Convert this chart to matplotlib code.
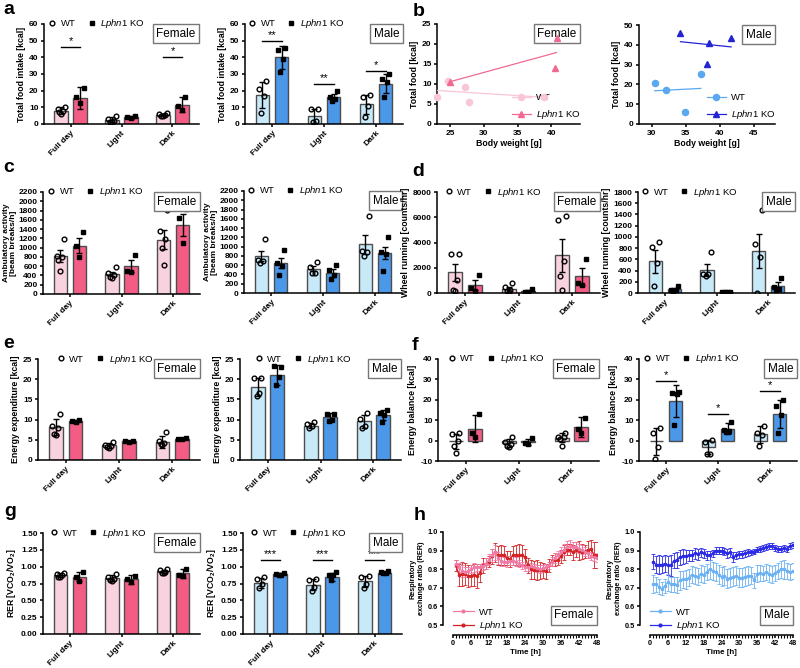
import numpy as np
import matplotlib
matplotlib.use('Agg')
import matplotlib.pyplot as plt
from matplotlib.lines import Line2D
from matplotlib.offsetbox import AnchoredText

plt.rcParams['font.family'] = ['Liberation Sans', 'DejaVu Sans']
plt.rcParams['mathtext.fontset'] = 'custom'
plt.rcParams['mathtext.rm'] = 'Liberation Sans'
plt.rcParams['mathtext.it'] = 'Liberation Sans:italic'
plt.rcParams['mathtext.bf'] = 'Liberation Sans:bold'

periods = ['Full day', 'Light', 'Dark']
ko_label = r'$\mathit{Lphn1}$ KO'

# a: total food intake [kcal]
a_f_wt_mean = [8.0, 2.6, 5.6]
a_f_wt_err = [2.0, 1.4, 0.6]
a_f_wt_pts = [[10.5, 9.0, 8.0, 7.0, 6.0], [5.0, 3.0, 2.0, 1.5, 1.5], [6.5, 6.0, 5.5, 5.0, 5.0]]
a_f_ko_mean = [15.5, 4.0, 11.5]
a_f_ko_err = [6.5, 1.0, 4.5]
a_f_ko_pts = [[21.5, 16.0, 12.5], [5.0, 4.0, 3.5], [16.0, 11.0, 8.5]]
a_m_wt_mean = [17.5, 5.0, 12.0]
a_m_wt_err = [8.0, 4.2, 5.7]
a_m_wt_pts = [[26.0, 21.0, 16.7, 6.4], [9.3, 9.3, 1.8, 1.4], [17.5, 16.5, 11.0, 4.0]]
a_m_ko_mean = [40.0, 16.2, 24.2]
a_m_ko_err = [7.0, 2.0, 5.8]
a_m_ko_pts = [[45.5, 44.5, 39.0, 31.5], [20.0, 16.0, 15.0, 14.0], [30.0, 27.0, 25.0, 16.0]]

# b: food vs body weight
b_f_wt_bw = [23.0, 24.7, 27.1, 27.8, 39.0]
b_f_wt_food = [6.8, 10.8, 9.2, 5.5, 6.8]
b_f_ko_bw = [24.9, 40.6, 40.8]
b_f_ko_food = [10.6, 14.0, 21.6]
b_m_wt_bw = [30.4, 32.0, 34.8, 37.2]
b_m_wt_food = [20.7, 17.3, 6.0, 25.4]
b_m_ko_bw = [34.2, 38.1, 38.35, 41.65]
b_m_ko_food = [45.8, 30.4, 41.1, 43.5]

# c: ambulatory activity
c_f_wt_mean = [815, 425, 1175]
c_f_wt_err = [130, 45, 200]
c_f_wt_pts = [[1190, 830, 800, 740, 490], [585, 460, 410, 360, 350], [1810, 1360, 1180, 1000, 615]]
c_f_ko_mean = [1045, 600, 1485]
c_f_ko_err = [165, 125, 230]
c_f_ko_pts = [[1340, 1030, 790], [850, 500, 470], [1830, 1630, 1090]]
c_m_wt_mean = [800, 525, 1055]
c_m_wt_err = [115, 60, 205]
c_m_wt_pts = [[1160, 720, 680, 650], [670, 560, 430, 430], [1650, 900, 880, 790]]
c_m_ko_mean = [640, 440, 860]
c_m_ko_err = [110, 85, 135]
c_m_ko_pts = [[920, 650, 590, 390], [600, 500, 380, 300], [1210, 880, 840, 480]]

# d: wheel running
d_f_wt_mean = [1630, 290, 2980]
d_f_wt_err = [660, 180, 1300]
d_f_wt_pts = [[3110, 3060, 1060, 260, 130], [820, 480, 210, 130, 80], [6070, 5800, 2530, 1350, 210]]
d_f_ko_mean = [660, 160, 1320]
d_f_ko_err = [400, 70, 690]
d_f_ko_pts = [[1450, 400, 150], [290, 80, 80], [2690, 800, 600]]
d_m_wt_mean = [570, 410, 743]
d_m_wt_err = [205, 100, 305]
d_m_wt_pts = [[905, 820, 540, 125], [730, 330, 345, 300], [1475, 880, 650, 0]]
d_m_ko_mean = [65, 18, 125]
d_m_ko_err = [30, 6, 75]
d_m_ko_pts = [[125, 60, 48, 36], [22, 18, 16, 14], [260, 110, 80, 50]]

# e: energy expenditure [kcal]
e_f_wt_mean = [8.1, 3.6, 4.5]
e_f_wt_err = [2.0, 0.7, 1.5]
e_f_wt_pts = [[11.3, 8.3, 8.0, 6.4, 6.3], [4.5, 3.8, 3.4, 3.3, 3.0], [7.0, 4.6, 4.2, 4.0, 3.8]]
e_f_ko_mean = [9.6, 4.6, 5.3]
e_f_ko_err = [0.3, 0.2, 0.2]
e_f_ko_pts = [[9.9, 9.7, 9.4], [4.8, 4.6, 4.5], [5.5, 5.3, 5.1]]
e_m_wt_mean = [18.1, 8.5, 9.6]
e_m_wt_err = [2.2, 0.7, 1.6]
e_m_wt_pts = [[20.3, 20.3, 16.5, 15.8], [9.4, 9.0, 8.3, 7.9], [11.6, 10.2, 8.5, 7.9]]
e_m_ko_mean = [21.0, 10.6, 11.2]
e_m_ko_err = [2.4, 1.0, 1.3]
e_m_ko_pts = [[23.1, 23.2, 20.5, 18.6], [11.4, 11.4, 10.0, 9.6], [12.5, 11.6, 11.2, 9.4]]

# f: energy balance [kcal]
f_f_wt_mean = [-0.3, -1.15, 1.3]
f_f_wt_err = [3.7, 1.8, 2.2]
f_f_wt_pts = [[3.5, 3.1, 0.0, -2.6, -5.9], [1.6, -0.5, -1.8, -2.5, -3.0], [3.9, 1.8, 1.8, 1.0, -2.6]]
f_f_ko_mean = [5.9, -0.8, 6.6]
f_f_ko_err = [6.8, 1.6, 4.9]
f_f_ko_pts = [[12.8, 3.5, 1.8], [1.2, -1.3, -1.6], [11.3, 5.9, 3.8]]
f_m_wt_mean = [-0.4, -3.1, 3.0]
f_m_wt_err = [6.7, 3.4, 4.1]
f_m_wt_pts = [[6.0, 3.5, -3.0, -9.0], [0.5, -0.7, -6.4, -6.7], [7.1, 3.5, 2.6, -2.8]]
f_m_ko_mean = [19.4, 5.9, 13.2]
f_m_ko_err = [8.0, 2.6, 6.8]
f_m_ko_pts = [[23.7, 23.2, 22.7, 7.6], [9.2, 5.1, 4.8, 4.3], [19.9, 16.9, 12.5, 3.9]]

# g: RER
g_f_wt_mean = [0.87, 0.83, 0.93]
g_f_wt_err = [0.03, 0.04, 0.025]
g_f_wt_pts = [[0.90, 0.89, 0.875, 0.85, 0.84], [0.89, 0.84, 0.81, 0.80, 0.78], [0.96, 0.95, 0.925, 0.91, 0.90]]
g_f_ko_mean = [0.85, 0.81, 0.90]
g_f_ko_err = [0.07, 0.06, 0.07]
g_f_ko_pts = [[0.925, 0.84, 0.79], [0.866, 0.81, 0.767], [0.97, 0.875, 0.86]]
g_m_wt_mean = [0.76, 0.73, 0.78]
g_m_wt_err = [0.075, 0.08, 0.085]
g_m_wt_pts = [[0.84, 0.82, 0.74, 0.69], [0.82, 0.80, 0.70, 0.64], [0.86, 0.84, 0.74, 0.69]]
g_m_ko_mean = [0.89, 0.85, 0.91]
g_m_ko_err = [0.015, 0.06, 0.015]
g_m_ko_pts = [[0.90, 0.89, 0.875, 0.875], [0.915, 0.875, 0.875, 0.80], [0.935, 0.915, 0.90, 0.90]]

# h: RER time course
hours = list(range(1, 49))
h_f_wt = [0.83, 0.81, 0.79, 0.785, 0.79, 0.80, 0.81, 0.81, 0.81, 0.815, 0.83, 0.85,
          0.875, 0.89, 0.86, 0.845, 0.84, 0.84, 0.845, 0.845, 0.84, 0.83, 0.82, 0.81,
          0.81, 0.815, 0.81, 0.805, 0.80, 0.805, 0.81, 0.82, 0.84, 0.86, 0.875, 0.89,
          0.905, 0.92, 0.925, 0.92, 0.92, 0.91, 0.905, 0.895, 0.885, 0.87, 0.865, 0.86]
h_f_wt_err = [0.02, 0.025, 0.03, 0.025, 0.02, 0.02, 0.025, 0.02, 0.02, 0.02, 0.03, 0.03,
              0.035, 0.04, 0.03, 0.03, 0.025, 0.03, 0.025, 0.025, 0.025, 0.02, 0.02, 0.02,
              0.02, 0.02, 0.02, 0.02, 0.02, 0.02, 0.02, 0.02, 0.025, 0.025, 0.025, 0.03,
              0.03, 0.03, 0.03, 0.025, 0.025, 0.025, 0.025, 0.025, 0.025, 0.02, 0.02, 0.02]
h_f_ko = [0.82, 0.77, 0.775, 0.775, 0.765, 0.765, 0.77, 0.765, 0.78, 0.82, 0.83, 0.84,
          0.87, 0.89, 0.875, 0.875, 0.875, 0.86, 0.855, 0.875, 0.875, 0.875, 0.875, 0.865,
          0.82, 0.80, 0.795, 0.795, 0.795, 0.795, 0.79, 0.82, 0.845, 0.85, 0.85, 0.87,
          0.89, 0.905, 0.905, 0.89, 0.905, 0.90, 0.895, 0.895, 0.905, 0.91, 0.875, 0.875]
h_f_ko_err = [0.03, 0.06, 0.065, 0.06, 0.06, 0.055, 0.06, 0.065, 0.05, 0.04, 0.03, 0.03,
              0.04, 0.05, 0.05, 0.055, 0.05, 0.04, 0.045, 0.05, 0.055, 0.06, 0.055, 0.045,
              0.04, 0.05, 0.05, 0.055, 0.045, 0.04, 0.04, 0.035, 0.03, 0.035, 0.03, 0.035,
              0.04, 0.03, 0.03, 0.04, 0.04, 0.05, 0.04, 0.035, 0.045, 0.045, 0.07, 0.07]
h_m_wt = [0.72, 0.72, 0.705, 0.695, 0.71, 0.73, 0.72, 0.72, 0.715, 0.74, 0.745, 0.745,
          0.755, 0.77, 0.765, 0.76, 0.775, 0.77, 0.785, 0.80, 0.79, 0.785, 0.77, 0.76,
          0.765, 0.75, 0.755, 0.76, 0.765, 0.755, 0.755, 0.76, 0.765, 0.765, 0.74, 0.775,
          0.78, 0.775, 0.785, 0.775, 0.77, 0.78, 0.79, 0.80, 0.80, 0.79, 0.785, 0.79]
h_m_wt_err = [0.05, 0.04, 0.04, 0.035, 0.04, 0.045, 0.04, 0.04, 0.045, 0.05, 0.045, 0.05,
              0.045, 0.045, 0.045, 0.045, 0.045, 0.045, 0.045, 0.05, 0.05, 0.05, 0.05, 0.05,
              0.05, 0.05, 0.05, 0.05, 0.05, 0.05, 0.05, 0.05, 0.05, 0.045, 0.04, 0.045,
              0.045, 0.04, 0.045, 0.045, 0.045, 0.045, 0.045, 0.045, 0.05, 0.045, 0.045, 0.045]
h_m_ko = [0.84, 0.825, 0.825, 0.825, 0.83, 0.82, 0.82, 0.845, 0.85, 0.865, 0.87, 0.87,
          0.875, 0.875, 0.885, 0.88, 0.89, 0.885, 0.875, 0.875, 0.885, 0.90, 0.90, 0.90,
          0.895, 0.885, 0.89, 0.865, 0.875, 0.88, 0.88, 0.885, 0.89, 0.89, 0.895, 0.905,
          0.91, 0.915, 0.92, 0.925, 0.925, 0.915, 0.91, 0.91, 0.915, 0.91, 0.925, 0.93]
h_m_ko_err = [0.04, 0.045, 0.05, 0.045, 0.045, 0.05, 0.055, 0.04, 0.045, 0.04, 0.04, 0.035,
              0.03, 0.03, 0.03, 0.03, 0.025, 0.025, 0.025, 0.025, 0.02, 0.02, 0.02, 0.02,
              0.02, 0.025, 0.025, 0.025, 0.02, 0.02, 0.02, 0.02, 0.02, 0.015, 0.015, 0.015,
              0.015, 0.015, 0.015, 0.015, 0.015, 0.015, 0.015, 0.015, 0.015, 0.015, 0.015, 0.015]

# colours
F_WT, F_KO = '#f9d2df', '#f25c85'
M_WT, M_KO = '#c8e9f8', '#4b97e8'
EDGE = '#4d4d4d'

W, H = 800, 668
fig = plt.figure(figsize=(8, 6.68), dpi=100)


def px_axes(x0, y0, x1, y1):
    return fig.add_axes([x0 / W, 1 - y1 / H, (x1 - x0) / W, (y1 - y0) / H])


def style(ax, offset=0, size=6):
    for s in ['top', 'right']:
        ax.spines[s].set_visible(False)
    for s in ['left', 'bottom']:
        ax.spines[s].set_linewidth(1.1)
        if offset:
            ax.spines[s].set_position(('outward', offset))
    ax.tick_params(width=1.1, length=2.5, labelsize=size, pad=1.5)


def sex_box(ax, sex, loc='upper right', size=8.5):
    at = AnchoredText(sex, loc=loc, borderpad=0.0, pad=0.3, frameon=True,
                      prop=dict(size=size))
    at.patch.set_edgecolor('#777777')
    at.patch.set_linewidth(1.0)
    at.zorder = 5
    ax.add_artist(at)


def spread(n, w=0.07):
    base = np.linspace(-w, w, n)
    order = []
    lo, hi = 0, n - 1
    while lo <= hi:
        order.append(hi)
        if lo != hi:
            order.append(lo)
        hi -= 1
        lo += 1
    return base[order]


def bar_panel(ax, wt_mean, wt_err, wt_pts, ko_mean, ko_err, ko_pts, c_wt, c_ko,
              ylim, yticks, ylabel, sex, leg_px, fmt='{:g}', sig=(), ylsize=6.3, ylpad=2):
    x = np.arange(len(periods))
    d, bw = 0.185, 0.26
    ax.bar(x - d, wt_mean, bw, color=c_wt, edgecolor=EDGE, linewidth=1, zorder=2)
    ax.bar(x + d, ko_mean, bw, color=c_ko, edgecolor=EDGE, linewidth=1, zorder=2)
    for i in range(len(periods)):
        ax.plot(x[i] - d + spread(len(wt_pts[i])), wt_pts[i], 'o', ms=3.4, mfc='none',
                mec='k', mew=1.0, zorder=3)
        ax.plot(x[i] + d + spread(len(ko_pts[i])), ko_pts[i], 's', ms=3.3, color='k', zorder=3)
    ax.errorbar(x - d, wt_mean, yerr=wt_err, fmt='none', ecolor='k', elinewidth=1,
                capsize=2.5, capthick=1, zorder=4)
    ax.errorbar(x + d, ko_mean, yerr=ko_err, fmt='none', ecolor='k', elinewidth=1,
                capsize=2.5, capthick=1, zorder=4)
    for g, yl, lab in sig:
        ax.plot([g - d, g + d], [yl, yl], color='k', lw=1)
        ax.text(g, yl + (ylim[1] - ylim[0]) * 0.01, lab, ha='center', va='bottom', fontsize=8)
    ax.set_xlim(-0.52, 2.52)
    ax.set_ylim(*ylim)
    style(ax)
    ax.set_yticks(yticks)
    ax.set_yticklabels([fmt.format(t) for t in yticks], fontweight='bold')
    ax.set_xticks(x)
    ax.set_xticklabels(periods, rotation=45, ha='right', rotation_mode='anchor',
                       fontweight='bold', fontsize=6)
    ax.set_ylabel(ylabel, fontsize=ylsize, fontweight='bold', labelpad=ylpad, linespacing=1.05)
    handles = [Line2D([], [], ls='', marker='o', ms=3.4, mfc='none', mec='k', mew=1.0),
               Line2D([], [], ls='', marker='s', ms=3.3, color='k')]
    wpx = ax.get_position().width * W
    ax.legend(handles, ['WT', ko_label], loc='center left', bbox_to_anchor=(leg_px / wpx - 0.03, 1.0),
              ncol=2, frameon=False, fontsize=6.8, handlelength=0.8, handletextpad=0.5,
              columnspacing=1.3, borderaxespad=0, borderpad=0)
    sex_box(ax, sex)


def scatter_panel(ax, wt_bw, wt_food, ko_bw, ko_food, c_wt, c_ko, xlim, xticks, ylim, yticks, sex):
    for bw, fd, c, m in [(wt_bw, wt_food, c_wt, 'o'), (ko_bw, ko_food, c_ko, '^')]:
        k, b = np.polyfit(bw, fd, 1)
        xs = np.array([min(bw), max(bw)])
        ax.plot(xs, k * xs + b, color=c, lw=0.9, zorder=3)
        ax.plot(bw, fd, ls='', marker=m, ms=4.4 if m == 'o' else 3.8, color=c, zorder=6, clip_on=False)
    style(ax)
    ax.set_xlim(*xlim)
    ax.set_ylim(*ylim)
    ax.set_xticks(xticks)
    ax.set_xticklabels([str(t) for t in xticks], fontweight='bold')
    ax.set_yticks(yticks)
    ax.set_yticklabels([str(t) for t in yticks], fontweight='bold')
    ax.set_xlabel('Body weight [g]', fontsize=6.3, fontweight='bold', labelpad=2)
    ax.set_ylabel('Total food [kcal]', fontsize=6.3, fontweight='bold', labelpad=2)
    handles = [Line2D([], [], color=c_wt, lw=0.9, marker='o', ms=4.4),
               Line2D([], [], color=c_ko, lw=0.9, marker='^', ms=3.8)]
    ax.legend(handles, ['WT', ko_label], loc='lower right', bbox_to_anchor=(1.0, 0.03),
              frameon=False, fontsize=6.8, handlelength=2.0, handletextpad=0.5,
              labelspacing=0.6, borderaxespad=0, borderpad=0)
    sex_box(ax, sex)


def rer_panel(ax, wt, wt_err, ko, ko_err, c_wt, c_ko, sex):
    ax.errorbar(hours, ko, yerr=ko_err, color=c_ko, lw=0.9, marker='o', ms=1.6,
                elinewidth=0.6, capsize=1.2, capthick=0.6, zorder=3)
    ax.errorbar(hours, wt, yerr=wt_err, color=c_wt, lw=0.9, marker='o', ms=1.6,
                elinewidth=0.6, capsize=1.2, capthick=0.6, zorder=3)
    ax.set_xlim(0, 48)
    ax.set_ylim(0.5, 1.0)
    style(ax, offset=7, size=5.3)
    ax.set_xticks(range(0, 49, 6))
    ax.set_xticklabels([str(t) for t in range(0, 49, 6)], fontweight='bold')
    ax.set_xticks(range(0, 49), minor=True)
    ax.tick_params(which='minor', length=1.8, width=0.8)
    yt = [0.5, 0.6, 0.7, 0.8, 0.9, 1.0]
    ax.set_yticks(yt)
    ax.set_yticklabels(['{:.1f}'.format(t) for t in yt], fontweight='bold')
    ax.set_xlabel('Time [h]', fontsize=5.8, fontweight='bold', labelpad=1.5)
    ax.set_ylabel('Respiratory\nexchange ratio (RER)', fontsize=5.2, fontweight='bold', labelpad=2)
    handles = [Line2D([], [], color=c_wt, lw=0.9, marker='o', ms=2),
               Line2D([], [], color=c_ko, lw=0.9, marker='o', ms=2)]
    ax.legend(handles, ['WT', ko_label], loc='lower left', bbox_to_anchor=(0.0, -0.08),
              frameon=False, fontsize=6.8, handlelength=2.2, handletextpad=0.6,
              labelspacing=0.3, borderaxespad=0, borderpad=0)
    sex_box(ax, sex, loc='lower right')


# row a / b
ax = px_axes(44, 24, 199, 124)
bar_panel(ax, a_f_wt_mean, a_f_wt_err, a_f_wt_pts, a_f_ko_mean, a_f_ko_err, a_f_ko_pts,
          F_WT, F_KO, (0, 60), range(0, 61, 10), 'Total food intake [kcal]', 'Female', 9,
          sig=[(0, 46, '*'), (2, 40, '*')])
ax = px_axes(245, 24, 403, 124)
bar_panel(ax, a_m_wt_mean, a_m_wt_err, a_m_wt_pts, a_m_ko_mean, a_m_ko_err, a_m_ko_pts,
          M_WT, M_KO, (0, 60), range(0, 61, 10), 'Total food intake [kcal]', 'Male', 8,
          sig=[(0, 50, '**'), (1, 24, '**'), (2, 32, '*')])
ax = px_axes(437, 24, 580, 124)
scatter_panel(ax, b_f_wt_bw, b_f_wt_food, b_f_ko_bw, b_f_ko_food, '#f8c6d6', '#f06a90',
              (23, 44.3), [25, 30, 35, 40], (0, 25), range(0, 26, 5), 'Female')
ax = px_axes(639, 25, 775, 124)
scatter_panel(ax, b_m_wt_bw, b_m_wt_food, b_m_ko_bw, b_m_ko_food, '#5aa8f0', '#2424d4',
              (28.1, 48.1), [30, 35, 40, 45], (0, 50), range(0, 51, 10), 'Male')

# row c / d
ax = px_axes(43, 192, 200, 294)
bar_panel(ax, c_f_wt_mean, c_f_wt_err, c_f_wt_pts, c_f_ko_mean, c_f_ko_err, c_f_ko_pts,
          F_WT, F_KO, (0, 2200), range(0, 2201, 200), 'Ambulatory activity\n[beam breaks/h]', 'Female', 9,
          ylsize=6.0, ylpad=1)
ax = px_axes(244, 191, 402, 293)
bar_panel(ax, c_m_wt_mean, c_m_wt_err, c_m_wt_pts, c_m_ko_mean, c_m_ko_err, c_m_ko_pts,
          M_WT, M_KO, (0, 2200), range(0, 2201, 200), 'Ambulatory activity\n[beam breaks/h]', 'Male', 8,
          ylsize=6.0, ylpad=1)
ax = px_axes(437, 192, 600, 293)
bar_panel(ax, d_f_wt_mean, d_f_wt_err, d_f_wt_pts, d_f_ko_mean, d_f_ko_err, d_f_ko_pts,
          F_WT, F_KO, (0, 8000), range(0, 8001, 2000), 'Wheel running [counts/hr]', 'Female', 13)
ax = px_axes(638, 192, 795, 293)
bar_panel(ax, d_m_wt_mean, d_m_wt_err, d_m_wt_pts, d_m_ko_mean, d_m_ko_err, d_m_ko_pts,
          M_WT, M_KO, (0, 1800), range(0, 1801, 200), 'Wheel running [counts/hr]', 'Male', 8)

# row e / f
ax = px_axes(38, 359, 200, 460)
bar_panel(ax, e_f_wt_mean, e_f_wt_err, e_f_wt_pts, e_f_ko_mean, e_f_ko_err, e_f_ko_pts,
          F_WT, F_KO, (0, 25), range(0, 26, 5), 'Energy expenditure [kcal]', 'Female', 24)
ax = px_axes(240, 359, 401, 460)
bar_panel(ax, e_m_wt_mean, e_m_wt_err, e_m_wt_pts, e_m_ko_mean, e_m_ko_err, e_m_ko_pts,
          M_WT, M_KO, (0, 25), range(0, 26, 5), 'Energy expenditure [kcal]', 'Male', 20)
ax = px_axes(438, 359, 599, 461)
bar_panel(ax, f_f_wt_mean, f_f_wt_err, f_f_wt_pts, f_f_ko_mean, f_f_ko_err, f_f_ko_pts,
          F_WT, F_KO, (-10, 40), range(-10, 41, 10), 'Energy balance [kcal]', 'Female', 15)
ax = px_axes(639, 359, 797, 461)
bar_panel(ax, f_m_wt_mean, f_m_wt_err, f_m_wt_pts, f_m_ko_mean, f_m_ko_err, f_m_ko_pts,
          M_WT, M_KO, (-10, 40), range(-10, 41, 10), 'Energy balance [kcal]', 'Male', 9,
          sig=[(0, 29.4, '*'), (1, 13.0, '*'), (2, 24.5, '*')])

# row g / h
g_ticks = [0.0, 0.25, 0.5, 0.75, 1.0, 1.25, 1.5]
g_label = r'RER [VCO$_\mathbf{2}$/VO$_\mathbf{2}$]'
ax = px_axes(43, 533, 200, 634)
bar_panel(ax, g_f_wt_mean, g_f_wt_err, g_f_wt_pts, g_f_ko_mean, g_f_ko_err, g_f_ko_pts,
          F_WT, F_KO, (0, 1.5), g_ticks, g_label, 'Female', 12, fmt='{:.2f}')
ax = px_axes(243, 533, 402, 634)
bar_panel(ax, g_m_wt_mean, g_m_wt_err, g_m_wt_pts, g_m_ko_mean, g_m_ko_err, g_m_ko_pts,
          M_WT, M_KO, (0, 1.5), g_ticks, g_label, 'Male', 12, fmt='{:.2f}',
          sig=[(0, 1.10, '***'), (1, 1.10, '***'), (2, 1.10, '***')])
ax = px_axes(453, 532, 597, 625)
rer_panel(ax, h_f_wt, h_f_wt_err, h_f_ko, h_f_ko_err, '#f07aa5', '#d42222', 'Female')
ax = px_axes(650, 532, 793, 625)
rer_panel(ax, h_m_wt, h_m_wt_err, h_m_ko, h_m_ko_err, '#6cb2f2', '#2a2ae6', 'Male')

# panel letters
for letter, lx, ly in [('a', 9, 9), ('b', 419, 12), ('c', 9, 168), ('d', 418, 172),
                       ('e', 9, 344), ('f', 415, 345), ('g', 10, 512), ('h', 420, 516)]:
    fig.text(lx / W, 1 - ly / H, letter, fontsize=14, fontweight='bold', ha='center', va='center')

fig.savefig('out.png', dpi=100)
